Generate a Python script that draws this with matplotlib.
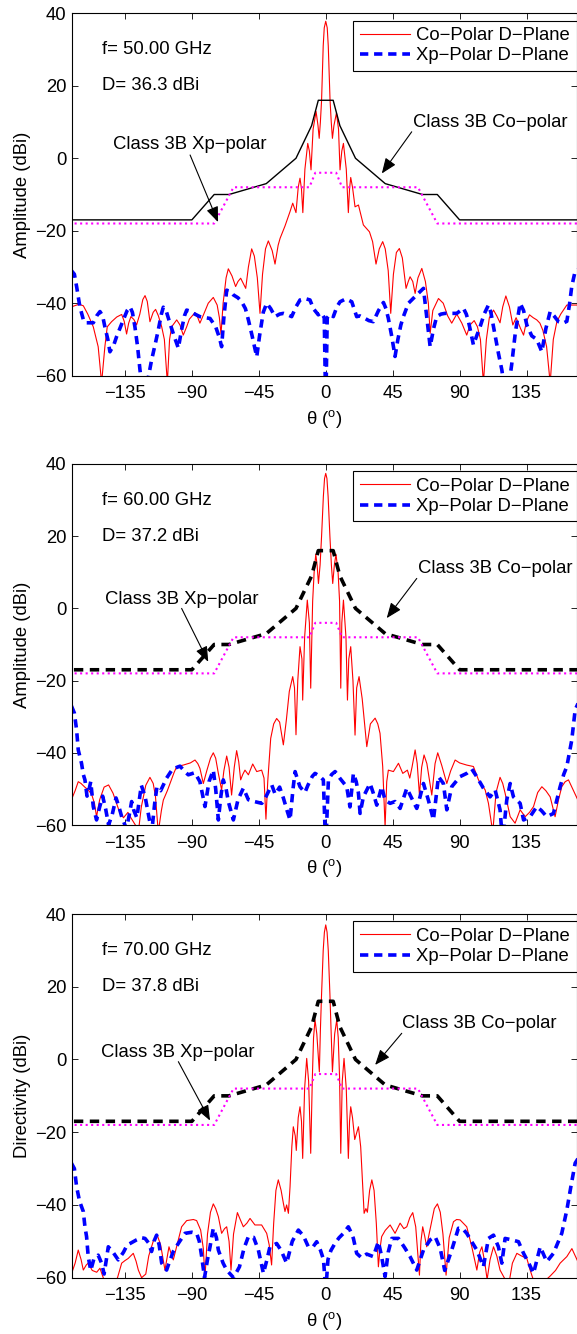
"""
Co-/cross-polar D-plane patterns at 50, 60 and 70 GHz against the
ETSI Class 3B masks. Three stacked panels, MATLAB-ish styling.
"""
import matplotlib

matplotlib.use("Agg")
import matplotlib.pyplot as plt
import numpy as np

plt.rcParams["font.family"] = ["Liberation Sans", "DejaVu Sans"]
plt.rcParams["font.size"] = 13.3
plt.rcParams["mathtext.fontset"] = "custom"
plt.rcParams["mathtext.rm"] = "Liberation Sans"

FREQS = ["50.00", "60.00", "70.00"]
DIRECT = ["36.3", "37.2", "37.8"]
YLABELS = ["Amplitude (dBi)", "Amplitude (dBi)", "Directivity (dBi)"]

# Class 3B masks (theta deg, dBi)
MASK_CO = [(-180, -17), (-90, -17), (-75, -10), (-65, -10), (-40, -7),
           (-20, 0), (-9.5, 9), (-5, 16), (5, 16), (9.5, 9), (20, 0),
           (40, -7), (65, -10), (75, -10), (90, -17), (180, -17)]
MASK_XP = [(-180, -18), (-75, -18), (-62, -8), (-11, -8), (-7, -4),
           (7, -4), (11, -8), (62, -8), (75, -18), (180, -18)]

# ---- 50 GHz ----
CO_50 = [
    (-171, -41), (-166, -40.3), (-163, -40.7), (-160, -43), (-156.3, -46.5),
    (-153, -52), (-150.7, -62), (-148.5, -52), (-146.9, -46.5), (-144, -45.1),
    (-140.5, -43.8), (-137.2, -43.1), (-135.5, -45), (-133.9, -48.5),
    (-132.5, -45.5), (-131, -43.7), (-129, -44.5), (-127.2, -46), (-125, -43),
    (-123, -39), (-121.5, -37.9), (-120, -39.5), (-118.2, -45.1), (-116, -42.5),
    (-114.4, -41.7), (-112.5, -43.5), (-110.3, -46.5), (-108.5, -50),
    (-106.5, -62), (-105, -50), (-103.6, -46.5), (-100.2, -44.6), (-98, -46),
    (-95.8, -48.8), (-93.5, -46.5), (-91.7, -44.4), (-87.9, -42.6), (-86, -44),
    (-84.6, -45.5), (-82, -43), (-79, -40), (-75.6, -38.4), (-73, -40.5),
    (-71.5, -44), (-70.4, -48.5), (-69, -40), (-67, -33), (-65.5, -30.5),
    (-63, -32.5), (-60.6, -35.4), (-59, -34), (-57.2, -33.1), (-55.5, -34.5),
    (-53.8, -35.9), (-52, -30), (-49.8, -25), (-48, -27), (-46, -33),
    (-44.2, -42.8), (-42.5, -32), (-40.5, -25), (-38.6, -22.8), (-36, -25.5),
    (-34.1, -29.2), (-32, -24), (-30.7, -22.1), (-27.4, -18.7), (-24, -14.7),
    (-22.2, -12.4), (-20, -15), (-18.5, -8), (-17.3, -5.5), (-16.3, -8.5),
    (-15.4, -15), (-14, -3), (-12.1, 4.1), (-11, 2), (-9.9, -3.2), (-8.5, 8),
    (-6.5, 12.9), (-5.2, 9), (-4.4, 5.5), (-3.6, 10), (-2.8, 16), (-1.7, 31),
    (-1, 36), (0, 37.8), (1, 36), (1.7, 31), (2.9, 16), (3.7, 10), (4.5, 5.5),
    (5.5, 9), (7.2, 12.5), (8.6, 8), (9.6, -3.2), (10.8, 2), (11.9, 4.1),
    (13.8, -3), (15.2, -15), (16, -8.5), (16.8, -5.3), (18, -8), (19.7, -13.4),
    (22, -12.9), (25.3, -18.4), (29.4, -20.3), (31.5, -23), (33.8, -29.2),
    (36, -25), (38.3, -23), (40, -25), (42, -31), (43.7, -42.8), (45.5, -32),
    (47.5, -26), (49.5, -24.9), (51.5, -27.5), (54, -35.9), (55.5, -34),
    (56.7, -32.7), (58.5, -34), (60.1, -37.3), (62, -33), (64.6, -30.4),
    (67, -34), (69, -40), (70.2, -48.3), (72, -42), (75.8, -38.7), (79, -40),
    (82, -43.5), (84.7, -45.5), (88.1, -43), (91.5, -45.5), (94.8, -48.8),
    (97, -46), (99.8, -44.8), (102, -46.5), (104, -50), (106, -62), (108, -50),
    (110, -44), (112.8, -41.9), (115, -43.5), (117.2, -45.4), (119, -41),
    (121.1, -38), (123.5, -41), (125.8, -46), (128, -44), (131, -47),
    (133, -48.8), (135, -45), (137, -43.2), (139.5, -44), (141.9, -44.6),
    (144, -45.5), (146, -47.5), (148.5, -52), (150.9, -62), (153, -50),
    (155.4, -45.1), (158, -43), (162.1, -40.5), (165, -40.5), (170, -40.5)]
XP_50 = [
    (-171, -31), (-169, -32), (-167.5, -35.4), (-165.3, -41), (-163, -44.5),
    (-161.9, -45.4), (-156.3, -45.4), (-154, -43.5), (-151.8, -42.3),
    (-150, -43.5), (-148.5, -46.5), (-146.5, -50), (-145.1, -53.4),
    (-142.5, -51.5), (-140.6, -49.2), (-138, -46.5), (-136.1, -44.6),
    (-133.5, -42), (-131.6, -41), (-130, -42.5), (-128.3, -46.5),
    (-126.5, -52), (-124.9, -58.4), (-123.5, -63), (-120, -62),
    (-117.1, -55.7), (-114.5, -51), (-112.6, -47.4), (-110.5, -43),
    (-109.2, -41.1), (-107, -42.5), (-104.7, -45.6), (-102, -49),
    (-99.1, -52.4), (-97, -47.5), (-95, -43.5), (-93.5, -41.9), (-91, -42.2),
    (-89, -42.8), (-84.6, -43.7), (-81, -44), (-77.8, -44.2), (-74, -46.5),
    (-71.5, -49.5), (-70, -52), (-68.5, -44), (-66.6, -36.4), (-64, -36.8),
    (-62.1, -37.7), (-59, -38.5), (-56.5, -39.6), (-54, -41.5), (-52, -44.6),
    (-49.5, -49), (-46.4, -54.8), (-44.5, -49), (-42, -42.5), (-39.7, -40),
    (-37, -41.5), (-34.1, -43.7), (-31, -43), (-28.5, -42.8), (-25.5, -43.2),
    (-22.9, -43.7), (-20, -41), (-17.3, -39.1), (-14, -38.7), (-10.6, -39.1),
    (-8.3, -41.5), (-5, -43.2), (-3, -42.6), (-1, -44), (-0.3, -62),
    (0.3, -62), (1, -44), (3, -43), (5.1, -43.7), (7.5, -41), (9.6, -39.6),
    (13.5, -38.8), (17.5, -39.6), (19, -41.5), (20.8, -43.7), (23, -43.5),
    (26.4, -44.2), (29, -44.8), (32, -45.1), (35.5, -42), (38.8, -39.8),
    (40.5, -41.5), (42.1, -44.2), (44.4, -49.2), (46.6, -54.7), (48.5, -50),
    (50.5, -46), (52.2, -43.7), (55.6, -40), (58.5, -38.8), (61.2, -37.7),
    (63.5, -36.8), (65.7, -35.9), (67.9, -43.7), (70.2, -52), (72.5, -47),
    (74.6, -43.7), (77.5, -43), (80.2, -42.8), (84, -42.8), (88.1, -42.8),
    (92.6, -41.4), (94.5, -43), (96, -45.1), (99.3, -51.5), (101.5, -49),
    (103.8, -46.5), (106.5, -43), (109.4, -40.5), (111, -42.5), (112.8, -46.5),
    (116.1, -53.8), (118.4, -58.4), (120, -63), (123, -63), (125, -57),
    (127.5, -48), (130.7, -40), (133, -42), (135.2, -46), (138.5, -49),
    (141.9, -50), (145.3, -53.4), (148, -47), (150.9, -42.3), (153.5, -43.5),
    (156.5, -45.1), (159.5, -45.5), (162.1, -45), (164, -40), (165.4, -35.4),
    (167.5, -31.5), (170, -30.5)]

# ---- 60 GHz ----
CO_60 = [
    (-171, -53), (-168.5, -50.5), (-166.4, -48), (-164.5, -48.5), (-162, -49.5),
    (-159.7, -50.3), (-157.4, -51.5), (-155.5, -54), (-154.1, -57.7),
    (-152, -53), (-149, -49.5), (-146, -48.9), (-143, -51.2), (-139, -56),
    (-136, -58), (-133, -56.5), (-131, -58), (-128, -60), (-126, -62),
    (-124, -55), (-121, -49), (-118.2, -46.8), (-116, -48.5), (-114.5, -52),
    (-112.6, -62), (-110.5, -56), (-109.2, -53.1), (-106.5, -50.5),
    (-104.7, -48.5), (-102, -45.5), (-100.2, -43.8), (-95.8, -43.4),
    (-91, -42.8), (-87.9, -42), (-86, -43), (-84.6, -44.3), (-82.3, -48.5),
    (-80, -45), (-77.5, -41.5), (-75.6, -40), (-74, -41.5), (-72.2, -45.7),
    (-70, -50.3), (-68.5, -45), (-66.6, -40.9), (-65, -44), (-63.3, -51.7),
    (-61.5, -44), (-59.9, -39.4), (-58.5, -42.5), (-57.2, -47.5),
    (-55.8, -46), (-54.3, -44.8), (-52, -46.1), (-49.1, -43.1), (-46.4, -45.2),
    (-43.1, -44.8), (-41.5, -47), (-40.2, -58.4), (-39, -48), (-37, -36),
    (-35, -32), (-33, -30.5), (-31, -31.5), (-28.5, -37.8), (-26.5, -31),
    (-24.5, -23), (-22.2, -18.9), (-21, -22), (-20, -35), (-18.8, -20),
    (-17.3, -10.6), (-16, -14), (-15.5, -25.4), (-14.2, -8), (-12.4, 2.3),
    (-11, -4), (-10.1, -22.1), (-8.8, 2), (-7.8, 10), (-6.7, 15), (-5.8, 12),
    (-4.9, 6.9), (-3.8, 12), (-2.8, 20), (-1.6, 31), (-0.8, 36), (0, 37.4),
    (0.8, 36), (1.6, 31), (2.8, 20), (3.8, 12), (4.7, 6.9), (5.8, 12),
    (6.9, 15), (8.3, 10), (9.3, 2), (10.1, -22.1), (10.8, -4), (11.9, 2.3),
    (13.6, -8), (14.6, -25.4), (15.5, -14), (16.8, -10.6), (18.3, -20),
    (19.7, -35.1), (20.8, -22), (22.4, -18.9), (24.5, -25), (27.6, -38.3),
    (30, -32), (33.2, -30.4), (35, -32), (36.5, -34.6), (38.3, -43.8),
    (39.9, -60.5), (41, -48), (42.1, -44.8), (45.5, -45.2), (48.9, -42.9),
    (51.8, -45.7), (54.9, -44.8), (56.5, -47), (58, -44), (60.1, -39.2),
    (61.5, -43), (63, -51.7), (64.5, -44), (66.1, -40.6), (68, -43),
    (71.3, -51.7), (73.5, -43), (75.3, -40), (78, -43.5), (81.4, -48.5),
    (84, -45), (87, -42), (90, -42.8), (94.8, -43.4), (99.3, -43.8),
    (102.7, -47.5), (107.2, -50.3), (109.4, -54), (112.3, -62), (114.5, -51),
    (117.2, -46.8), (119, -48.5), (120.6, -51.2), (124, -57.7), (127.3, -59.5),
    (130.7, -55.8), (134.1, -57.7), (137, -56.5), (139.7, -54.9), (142.5, -51),
    (145.3, -49.4), (148, -50.5), (150.9, -52.2), (154.2, -57.7), (156.5, -53),
    (158.7, -49.4), (161, -48), (163.2, -47.5), (166, -50), (170, -53.5)]
XP_60 = [
    (-171, -27), (-169, -29), (-167.5, -33.7), (-166.4, -39.2), (-164.2, -42.9),
    (-163, -46), (-161.9, -47.5), (-160.5, -52), (-159.7, -51.2), (-158, -48),
    (-156.3, -54.9), (-154.1, -58.6), (-152, -55), (-150, -52), (-148, -55.5),
    (-146, -60), (-143.5, -57), (-141, -52.5), (-139, -55), (-137, -58),
    (-134, -61), (-132, -57), (-130.5, -53.5), (-129, -56), (-127, -58),
    (-125, -52), (-124, -49), (-121.5, -52), (-119, -57.5), (-117, -62),
    (-115, -54), (-113.5, -49.5), (-111, -50.5), (-107, -47), (-103, -44.5),
    (-98, -43.7), (-94, -45.5), (-92.4, -46.1), (-88, -45.5), (-84.6, -48),
    (-81.2, -54.9), (-78.5, -48), (-75.6, -44.8), (-74, -50), (-72.2, -58.6),
    (-70.5, -52), (-68.9, -47.5), (-67, -50), (-65.5, -53.5), (-62.1, -58.6),
    (-59, -53), (-55.4, -49.8), (-52, -53), (-48, -53.5), (-43, -54),
    (-40, -52), (-36.3, -48.9), (-34, -51.5), (-31, -49.5), (-28.5, -52.5),
    (-26, -56), (-24, -58.6), (-22, -50), (-20.6, -45.2), (-18.5, -48),
    (-17.3, -49.4), (-14, -51), (-12, -49), (-9, -46.5), (-7.2, -45.7),
    (-4, -46.5), (-1.6, -47.5), (-0.4, -62), (0.4, -62), (1.8, -47.5),
    (4, -46), (6.3, -45.2), (9.6, -47.1), (14.1, -49.4), (16.3, -55),
    (18.6, -45.7), (20.5, -48), (22, -51.2), (23.1, -56.8), (25.3, -52.2),
    (29.8, -48.5), (32, -51.2), (34.3, -54.5), (37.6, -49.4), (39.9, -53.1),
    (43.3, -54), (46.6, -53.5), (50, -55.4), (54.5, -49.8), (57.8, -52.6),
    (61.2, -55.4), (63.4, -52.2), (65.7, -48.5), (69, -53.1), (72.4, -58.6),
    (75.8, -46.6), (79.1, -48.5), (81.4, -55.8), (84.7, -49.4), (90.3, -46.6),
    (94.8, -45.7), (98.2, -44.5), (101.5, -46.6), (106, -49.8), (110.5, -52.2),
    (113.9, -50.3), (117.2, -55.8), (118.4, -62), (120, -60), (121.7, -53.1),
    (124, -48.5), (126.2, -52.2), (130.7, -54), (133, -58.6), (137.4, -57.7),
    (141.9, -54.9), (145, -56), (148.6, -57.7), (153.1, -56.8), (157.6, -49.4),
    (160, -46), (162.1, -43.8), (165.4, -36.5), (167.7, -28.1), (170, -26)]

# ---- 70 GHz ----
CO_70 = [
    (-171, -59), (-168.5, -56), (-166.4, -52.4), (-164.5, -55), (-163, -57.9),
    (-161, -56.5), (-159.7, -56), (-157, -58), (-154, -58.5), (-151.8, -57.4),
    (-149.6, -60), (-147, -62), (-143, -62), (-140, -60), (-137.2, -56),
    (-135, -55.3), (-132.8, -54.7), (-129.4, -53.3), (-127.5, -55.5),
    (-126, -57.9), (-123.8, -60), (-121, -59), (-119, -54), (-116, -50),
    (-113.3, -48.3), (-111, -51), (-108.1, -57.9), (-106.5, -54),
    (-105.4, -51.5), (-103.5, -54), (-102.5, -55.1), (-100, -51), (-96.9, -46),
    (-93.5, -44.3), (-89, -44), (-86.8, -44.3), (-84.1, -46.9), (-82.3, -52),
    (-81.2, -60), (-79.5, -48), (-77.5, -42), (-75.6, -39.7), (-74, -41),
    (-72.2, -43.2), (-70, -47.8), (-68, -46.5), (-66.6, -46), (-65, -50),
    (-63.7, -57.9), (-62, -48), (-59.4, -42.1), (-57.5, -44), (-55.4, -46),
    (-53, -45), (-50.9, -43.7), (-47.6, -45.5), (-43.1, -45.5), (-39.7, -47.8),
    (-38, -51), (-36.4, -56.5), (-35, -45), (-33.5, -36), (-31.9, -33.1),
    (-30, -36), (-28.5, -39.5), (-27.4, -41.8), (-26.3, -40), (-25.1, -42.3),
    (-24, -35), (-22.8, -24), (-21.8, -18.5), (-20.5, -21), (-19.8, -25),
    (-18.5, -16), (-17.3, -13), (-16.3, -17), (-15.5, -27.2), (-14.2, -8),
    (-12.8, 0.3), (-11.5, -6), (-10.1, -25.8), (-9, -5), (-8.2, 6),
    (-7.2, 10.9), (-6, 7), (-4.3, -3.4), (-3.6, 8), (-2.8, 18), (-1.7, 30),
    (-0.9, 35), (0, 37), (0.9, 35), (1.7, 30), (2.8, 18), (3.6, 8),
    (4.5, -3.4), (6, 7), (7.4, 10.9), (8.4, 6), (9.3, -5), (10.1, -25.8),
    (11.1, -6), (12.3, 0.3), (13.8, -8), (15.2, -27.2), (16, -17), (16.8, -13),
    (18, -16), (19.5, -22), (22, -18.5), (23.5, -24), (24.5, -32),
    (25.8, -42.3), (27, -41), (28, -42), (29.5, -36), (31, -33.1), (32.5, -36),
    (34, -45), (35.4, -57), (36.5, -52), (37.6, -48.7), (40, -47),
    (43.3, -45.5), (46.6, -47.8), (50, -45), (52.5, -46.5), (54.5, -46),
    (56.5, -43.5), (58.5, -42.1), (60.5, -46), (63, -59.3), (64, -50),
    (65.2, -46), (66.5, -48.5), (67.9, -51.5), (69, -49), (71, -45), (73, -41),
    (75.1, -39.7), (77, -42), (78.8, -48), (80.9, -59.3), (83, -49),
    (85.9, -44.6), (88, -44), (90.3, -44.1), (94.8, -46), (98.2, -51.5),
    (101.6, -57.9), (103.5, -53), (105, -51.5), (107, -56), (108.5, -60.5),
    (110.5, -55), (112.8, -51.5), (115, -54), (117.2, -57.9), (120, -60),
    (123, -62), (125.5, -56), (128.5, -53.3), (131.5, -54), (135.2, -54.7),
    (137.5, -58), (139.5, -60.5), (143, -61), (147, -61), (151, -59.5),
    (154.5, -58), (157.6, -56), (162.1, -54.2), (165.5, -52), (170, -56)]
XP_70 = [
    (-171, -28.5), (-169, -30), (-167.5, -35), (-165.5, -39), (-163, -41.8),
    (-161.9, -46), (-160.8, -48.7), (-159.7, -54.2), (-158, -58), (-156, -55),
    (-153, -53.8), (-150.7, -56), (-149, -59), (-147.5, -55), (-146.2, -51.5),
    (-143, -53), (-139.5, -55.1), (-136, -53), (-133.5, -51), (-131.6, -50.6),
    (-127.2, -49.6), (-124, -49), (-121.5, -49.2), (-119, -50.5),
    (-117.1, -52.8), (-115.5, -50), (-113.7, -48.3), (-112, -51),
    (-110.3, -56), (-107, -57.9), (-104.5, -55), (-102.5, -52.8), (-99, -50.5),
    (-94.6, -47.8), (-90, -47.5), (-86.8, -47.8), (-85, -50), (-83.4, -54.2),
    (-81.5, -60), (-79.5, -55), (-77.8, -51.5), (-75.6, -46.4), (-73.5, -49),
    (-72.2, -52.4), (-69, -56), (-66.6, -57.9), (-62, -60), (-58, -57),
    (-55, -52), (-52, -48.7), (-48.5, -48.9), (-45.3, -52.4), (-41.9, -58.8),
    (-39.5, -55), (-37.5, -51.5), (-33, -50.6), (-30, -52.5), (-26.3, -56),
    (-22.5, -50), (-18.4, -46.9), (-15, -48.5), (-11.7, -51.5), (-8.5, -51.5),
    (-6.1, -50.1), (-3.5, -52.5), (-1.5, -55), (-0.3, -62), (0.3, -62),
    (1.5, -55), (3.5, -52.5), (6.3, -50.5), (9, -49), (11.9, -47.8),
    (15.2, -46), (17, -47.5), (18.6, -49.2), (20.8, -53.3), (24, -54.5),
    (27.5, -53.5), (32, -54.2), (35.4, -50.1), (37.5, -54), (39.9, -59.7),
    (42, -53), (44.4, -49.2), (48.9, -49.2), (53.3, -51.9), (56.7, -54.2),
    (61.2, -57.9), (65.7, -52.4), (70.2, -49.6), (73.5, -48.7), (77, -52),
    (80, -58), (84.7, -52.4), (89.2, -46.4), (92, -46.5), (94.8, -47.8),
    (98, -50), (101.6, -52.4), (106, -57), (109.4, -49.2), (112.8, -48.3),
    (116.1, -51.5), (118.4, -56), (120.6, -49.2), (125.1, -49.6),
    (129.6, -50.1), (133, -53.3), (136.5, -56), (139.7, -58.8), (144.2, -51.5),
    (148.6, -55.6), (153.1, -53.3), (158.7, -47.8), (162.1, -41.4),
    (164.8, -35), (167.7, -28.5), (170, -27)]

# annotation anchors per panel: (text xy, arrow tail, arrow tip)
NOTE_XP = [((-91.6, 3.9), (-91.2, 0.9), (-72.4, -17.6)),
           ((-96.6, 2.5), (-96.9, 0.0), (-79.0, -14.8)),
           ((-99.7, 1.9), (-99.1, -0.6), (-77.8, -16.8))]
NOTE_CO = [((110.5, 10.0), (57.8, 7.3), (37.7, -4.2)),
           ((114.0, 11.1), (61.2, 8.3), (41.0, -2.7)),
           ((102.9, 9.9), (51.1, 7.2), (33.2, -1.5))]

CO = [CO_50, CO_60, CO_70]
XP = [XP_50, XP_60, XP_70]

W, H = 577, 1334
fig = plt.figure(figsize=(W / 100, H / 100), dpi=100)
# axes boxes in pixels: (top, bottom)
boxes = [(13.3, 375.7), (464.0, 825.0), (914.0, 1277.7)]
left, right = 72.0, 576.5

for i, (top, bot) in enumerate(boxes):
    ax = fig.add_axes([left / W, 1 - bot / H, (right - left) / W, (bot - top) / H])
    mc = np.array(MASK_CO).T
    mx = np.array(MASK_XP).T
    co = np.array(CO[i]).T
    xp = np.array(XP[i]).T

    ax.plot(co[0], co[1], color="red", lw=0.8, label="Co\u2212Polar D\u2212Plane")
    ax.plot(xp[0], xp[1], color="blue", lw=2.6, ls=(0, (2.3, 1.6)),
            label="Xp\u2212Polar D\u2212Plane")
    if i == 0:
        ax.plot(mc[0], mc[1], color="black", lw=1.0)
    else:
        ax.plot(mc[0], mc[1], color="black", lw=2.6, ls=(0, (2.6, 1.8)))
    ax.plot(mx[0], mx[1], color="magenta", lw=1.5, ls=":")

    ax.set_xlim(-170.6, 168.6)
    ax.set_ylim(-60, 40)
    ax.set_xticks([-135, -90, -45, 0, 45, 90, 135])
    ax.set_yticks([-60, -40, -20, 0, 20, 40])
    ax.tick_params(direction="in", top=True, right=True, length=4, width=0.6)
    ax.tick_params(axis="x", pad=7)
    ax.tick_params(axis="y", pad=4)
    for s in ax.spines.values():
        s.set_linewidth(0.8)

    ax.set_ylabel(YLABELS[i], labelpad=3)
    ax.set_xlabel("\u03b8 ($^{\\rm o}$)", labelpad=4)

    ax.text(-150.5, 30, f"f= {FREQS[i]} GHz", va="center", ha="left")
    ax.text(-150.5, 20, f"D= {DIRECT[i]} dBi", va="center", ha="left")

    arrow = dict(arrowstyle="-|>,head_length=0.7,head_width=0.28",
                 color="black", lw=0.8, shrinkA=0, shrinkB=0)
    for (txy, tail, tip), lab in [(NOTE_XP[i], "Class 3B Xp\u2212polar"),
                                  (NOTE_CO[i], "Class 3B Co\u2212polar")]:
        ax.text(txy[0], txy[1], lab, ha="center", va="center")
        ax.annotate("", xy=tip, xytext=tail, arrowprops=arrow)

    leg = ax.legend(loc="upper right", bbox_to_anchor=(1.0, 0.98),
                    borderaxespad=0, fancybox=False, framealpha=1,
                    handlelength=2.7, handletextpad=0.35, borderpad=0.35,
                    labelspacing=0.18)
    leg.get_frame().set_edgecolor("black")
    leg.get_frame().set_linewidth(0.8)

fig.savefig("out.png", dpi=100)
